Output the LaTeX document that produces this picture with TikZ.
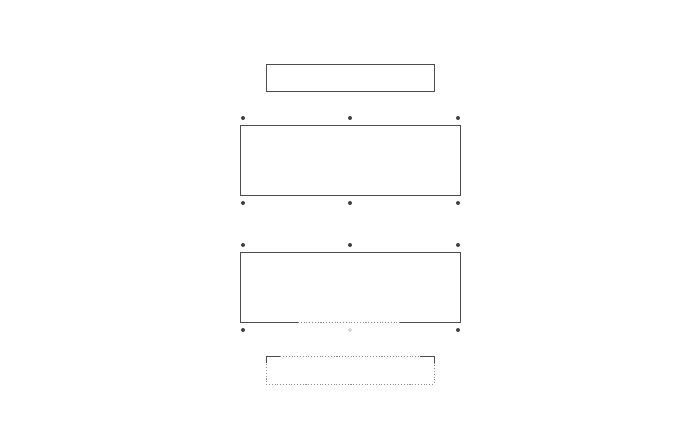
\documentclass[tikz,border=0pt]{standalone}
\usepackage{tikz}
\usetikzlibrary{calc}

\tikzset{
	frame/.style = {draw=black!70, line width=0.5pt},
	dotline/.style = {draw=black!45, line width=0.5pt, dash pattern=on 0.6pt off 1pt},
	pin/.style = {fill=black!75}
}

\begin{document}
\begin{tikzpicture}[x=0.02cm, y=-0.02cm]
	\useasboundingbox (0,0) rectangle (700,448);
	
	% top plate
	\draw [frame] (266,64) rectangle (434,91);
	
	% upper box
	\draw [frame] (240,125) rectangle (460,195);
	\foreach \x in {243,350,458} {
		\fill [pin] (\x,118) circle [radius = 2];
		\fill [pin] (\x,203) circle [radius = 2];
	}
	
	% lower box
	\draw [frame] (298,322) -- (240,322) -- (240,252) -- (460,252) -- (460,322) -- (400,322);
	\draw [dotline] (298,322) -- (400,322);
	\foreach \x in {243,350,458}
		\fill [pin] (\x,245) circle [radius = 2];
	\fill [pin] (243,330) circle [radius = 2];
	\fill [pin] (458,330) circle [radius = 2];
	\draw [black!30, line width=0.3pt] (350,330) circle [radius = 1.4];
	
	% bottom plate
	\draw [dotline] (266,356) rectangle (434,384);
	\draw [frame] (266,363) -- (266,356) -- (280,356);
	\draw [frame] (420,356) -- (434,356) -- (434,363);
\end{tikzpicture}
\end{document}
